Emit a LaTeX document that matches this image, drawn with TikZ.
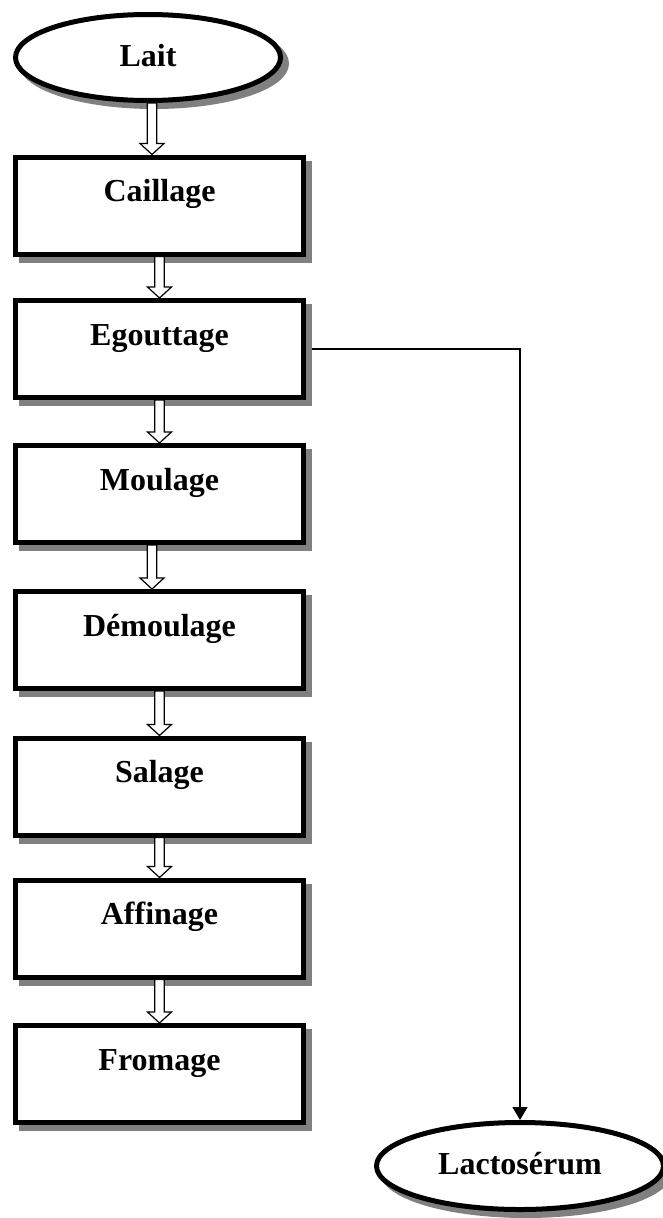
\documentclass[tikz,border=0pt]{standalone}
\usepackage{fontspec}
\setmainfont{Liberation Serif}
\usetikzlibrary{calc,shadows,shapes.geometric,arrows.meta,backgrounds}

\tikzset{
  boxshadow/.style={drop shadow={shadow xshift=6pt,shadow yshift=-6pt,
      fill=black!50,draw=black!50,line width=5pt,opacity=1}},
  labelfont/.style={font=\bfseries\fontsize{32}{37}\selectfont},
  stage/.style={rectangle,draw,line width=5pt,fill=white,
      minimum width=288pt,minimum height=97pt,inner sep=0pt,
      text height=22pt,text depth=30pt,labelfont,boxshadow},
  terminal/.style={ellipse,draw,line width=5pt,fill=white,inner sep=0pt,
      text height=21pt,text depth=4pt,labelfont,boxshadow},
  hollow/.style={draw,fill=white,line width=1.2pt,line join=miter},
  link/.style={line width=1.3pt,-{Triangle[length=13pt,width=15pt]}},
}

% hollow block arrow from the bottom of #2 to the top of #3,
% optionally shifted sideways by #1
\newcommand\flowarrow[3][0pt]{%
  \draw[hollow] let \p1=([xshift=#1]#2.south), \p2=(#3.north) in
    (\x1-4.8pt,\y1) -- (\x1-4.8pt,\y2+11pt) -- (\x1-12pt,\y2+11pt)
    -- (\x1,\y2) -- (\x1+12pt,\y2+11pt) -- (\x1+4.8pt,\y2+11pt)
    -- (\x1+4.8pt,\y1) -- cycle;}

\begin{document}
\begin{tikzpicture}[x=1pt,y=-1pt]
  \useasboundingbox (0,0) rectangle (662,1218);

  \node[terminal,minimum width=265pt,minimum height=86pt] (lait) at (148,57.5) {Lait};
  \node[stage] (caillage) at (159.5,205.5) {Caillage};
  \node[stage] (egout)    at (159.5,349)   {Egouttage};
  \node[stage] (moulage)  at (159.5,494)   {Moulage};
  \node[stage] (demoul)   at (159.5,640)   {Démoulage};
  \node[stage] (salage)   at (159.5,786.5) {Salage};
  \node[stage] (affinage) at (159.5,928.5) {Affinage};
  \node[stage] (fromage)  at (159.5,1074)  {Fromage};
  \node[terminal,minimum width=287pt,minimum height=87pt] (lacto) at (520,1166) {Lactosérum};

  \flowarrow[4pt]{lait}{caillage}
  \flowarrow{caillage}{egout}
  \flowarrow{egout}{moulage}
  \flowarrow[-7.5pt]{moulage}{demoul}
  \flowarrow{demoul}{salage}
  \flowarrow{salage}{affinage}
  \flowarrow{affinage}{fromage}

  \begin{scope}[on background layer]
    \draw[link] (egout.east) -| (lacto.north);
  \end{scope}
\end{tikzpicture}
\end{document}
